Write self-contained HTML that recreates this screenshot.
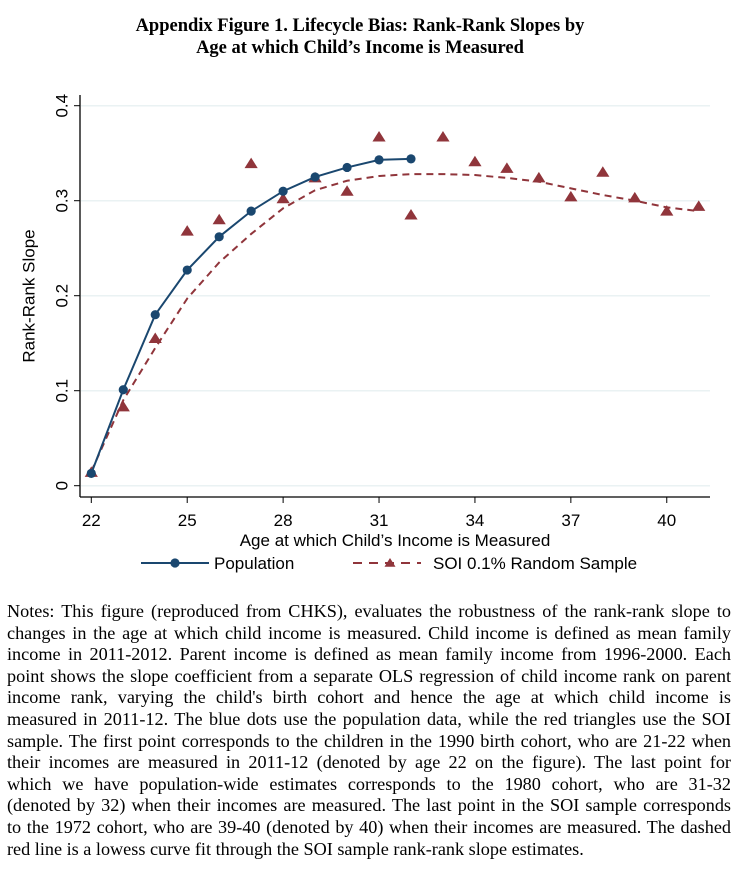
<!DOCTYPE html>
<html><head><meta charset="utf-8">
<style>
body{margin:0;background:#fff;width:739px;height:873px;overflow:hidden;position:relative;}
#title{position:absolute;left:0;top:15px;width:720px;text-align:center;font:bold 18.5px/22px "Liberation Serif",serif;color:#000;}
#notes{position:absolute;left:7px;top:601px;width:724px;font:18.2px/21.6px "Liberation Serif",serif;color:#000;}
#notes div{text-align:justify;text-align-last:justify;white-space:nowrap;}
#notes div.last{text-align-last:left;}
svg{position:absolute;left:0;top:0;}
</style></head><body>
<div id="title">Appendix Figure 1. Lifecycle Bias: Rank-Rank Slopes by<br>Age at which Child’s Income is Measured</div>
<svg id="chart" width="739" height="600" font-family="Liberation Sans, sans-serif"></svg>
<div id="notes">
<div>Notes: This figure (reproduced from CHKS), evaluates the robustness of the rank-rank slope to</div>
<div>changes in the age at which child income is measured. Child income is defined as mean family</div>
<div>income in 2011-2012. Parent income is defined as mean family income from 1996-2000. Each</div>
<div>point shows the slope coefficient from a separate OLS regression of child income rank on parent</div>
<div>income rank, varying the child's birth cohort and hence the age at which child income is</div>
<div>measured in 2011-12. The blue dots use the population data, while the red triangles use the SOI</div>
<div>sample. The first point corresponds to the children in the 1990 birth cohort, who are 21-22 when</div>
<div>their incomes are measured in 2011-12 (denoted by age 22 on the figure). The last point for</div>
<div>which we have population-wide estimates corresponds to the 1980 cohort, who are 31-32</div>
<div>(denoted by 32) when their incomes are measured. The last point in the SOI sample corresponds</div>
<div>to the 1972 cohort, who are 39-40 (denoted by 40) when their incomes are measured. The dashed</div>
<div class="last">red line is a lowess curve fit through the SOI sample rank-rank slope estimates.</div>
</div>
<script>
const popAges = [22,23,24,25,26,27,28,29,30,31,32];
const popValues = [0.013,0.101,0.180,0.227,0.262,0.289,0.310,0.325,0.335,0.343,0.344];
const soiAges = [22,23,24,25,26,27,28,29,30,31,32,33,34,35,36,37,38,39,40,41];
const soiValues = [0.014,0.083,0.155,0.268,0.280,0.339,0.302,0.324,0.310,0.367,0.285,0.367,0.341,0.334,0.324,0.304,0.330,0.303,0.289,0.294];
const lowessValues = [0.015,0.090,0.145,0.197,0.235,0.265,0.292,0.311,0.321,0.326,0.328,0.328,0.327,0.324,0.320,0.313,0.306,0.300,0.293,0.289];
const xTicks = [22,25,28,31,34,37,40];
const yTicks = [0,0.1,0.2,0.3,0.4];
const yTickLabels = ["0","0.1","0.2","0.3","0.4"];

const NS="http://www.w3.org/2000/svg";
const svg=document.getElementById('chart');
const X=a=>91.3+(a-22)*31.97;
const Y=v=>485.7-v*950;
function mk(tag,attrs,parent){const e=document.createElementNS(NS,tag);for(const k in attrs)e.setAttribute(k,attrs[k]);(parent||svg).appendChild(e);return e;}

yTicks.forEach((t,i)=>{
  const g=mk('line',{x1:81,x2:710,y1:Y(t),y2:Y(t),stroke:'#eaf2f3','stroke-width':1.5});
  
  
  const tk=mk('line',{x1:74,x2:80,y1:Y(t),y2:Y(t),stroke:'#000'});
  
  
  const tx=Y(t), lx=62;
  const lb=mk('text',{x:lx,y:tx,'font-size':17,'text-anchor':'middle',transform:`rotate(-90 ${lx} ${tx})`,'dominant-baseline':'central'});
  lb.textContent=yTickLabels[i];
  
  
});
const ya=mk('line',{x1:80,x2:80,y1:95,y2:497,stroke:'#000','stroke-width':1.3});


const xa=mk('line',{x1:80,x2:710,y1:497,y2:497,stroke:'#000','stroke-width':1.3});


xTicks.forEach(t=>{
  const tk=mk('line',{x1:X(t),x2:X(t),y1:497,y2:503,stroke:'#000'});
  
  
  const lb=mk('text',{x:X(t),y:526,'font-size':17,'text-anchor':'middle'});
  lb.textContent=t;
  
  
});
const xt=mk('text',{x:395,y:546,'font-size':17,'text-anchor':'middle'});
xt.textContent='Age at which Child’s Income is Measured';


const yt=mk('text',{x:29,y:296,'font-size':17,'text-anchor':'middle',transform:'rotate(-90 29 296)','dominant-baseline':'central'});
yt.textContent='Rank-Rank Slope';



const RED='#90353b', BLUE='#1a476f';
const lw=mk('polyline',{points:soiAges.map((a,i)=>X(a)+','+Y(lowessValues[i])).join(' '),fill:'none',stroke:RED,'stroke-width':2,'stroke-dasharray':'7,5'});


function tri(cx,cy,s){return `${cx},${cy-s} ${cx-s*1.1},${cy+s*0.75} ${cx+s*1.1},${cy+s*0.75}`;}
soiAges.forEach((a,i)=>{
  const t=mk('polygon',{points:tri(X(a),Y(soiValues[i]),6),fill:RED});
  
  
});
const pl=mk('polyline',{points:popAges.map((a,i)=>X(a)+','+Y(popValues[i])).join(' '),fill:'none',stroke:BLUE,'stroke-width':2});


popAges.forEach((a,i)=>{
  const c=mk('circle',{cx:X(a),cy:Y(popValues[i]),r:4.6,fill:BLUE});
  
  
});
const lg=mk('g',{});


mk('line',{x1:141,x2:209,y1:563,y2:563,stroke:BLUE,'stroke-width':2},lg);
mk('circle',{cx:175,cy:563,r:4.6,fill:BLUE},lg);
const l1=mk('text',{x:214,y:569,'font-size':17},lg);
l1.textContent='Population';


mk('line',{x1:353,x2:421,y1:563,y2:563,stroke:RED,'stroke-width':2,'stroke-dasharray':'9,7'},lg);
mk('polygon',{points:tri(390,563,5),fill:RED},lg);
const l2=mk('text',{x:433,y:569,'font-size':17},lg);
l2.textContent='SOI 0.1% Random Sample';


</script>
</body></html>
